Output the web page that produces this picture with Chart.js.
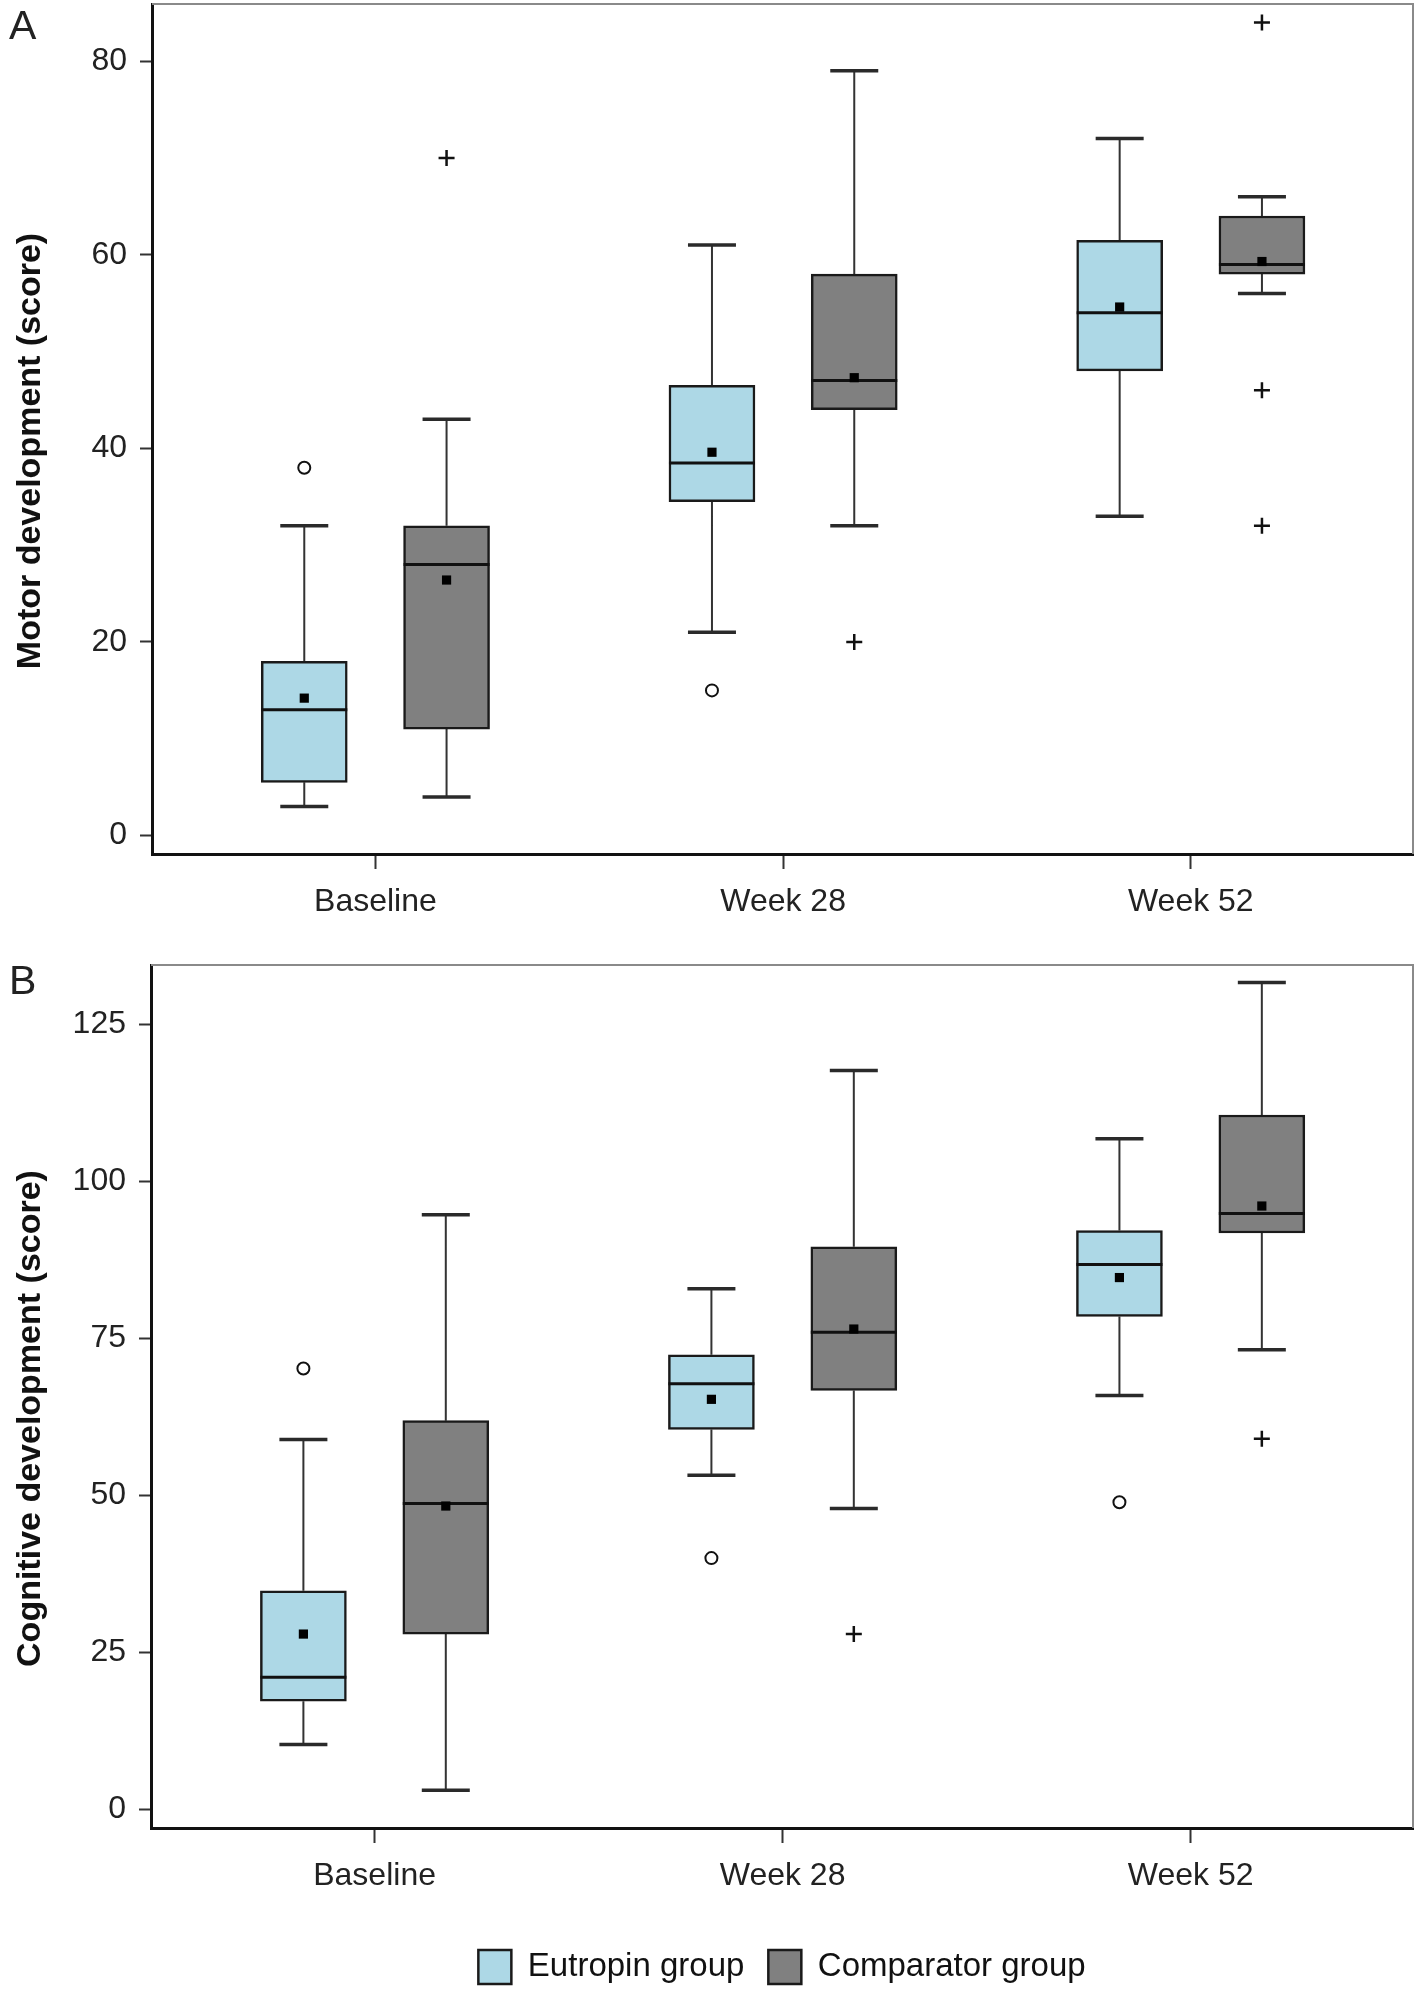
<!DOCTYPE html>
<html>
<head>
<meta charset="utf-8">
<script src="https://cdn.jsdelivr.net/npm/chart.js@4.4.0/dist/chart.umd.min.js"></script>
<style>
  body { margin: 0; background: #fff; }
  .panel { position: relative; width: 1418px; }
  #panelA { height: 940px; }
  #panelB { height: 1050px; }
</style>
</head>
<body>
<div class="panel" id="panelA"><canvas id="motorChart"></canvas></div>
<div class="panel" id="panelB"><canvas id="cognitiveChart"></canvas></div>
<script>
const categories = ['Baseline', 'Week 28', 'Week 52'];
const groupLabels = ['Eutropin group', 'Comparator group'];

// A - motor development (score)
const motorTicks = [0, 20, 40, 60, 80];
const motorEutMin    = [3, 21, 33];
const motorEutQ1     = [5.5, 34.5, 48];
const motorEutMedian = [13, 38.5, 54];
const motorEutQ3     = [18, 46.5, 61.5];
const motorEutMax    = [32, 61, 72];
const motorEutMean   = [14.2, 39.6, 54.6];
const motorEutOut    = [[38], [15], []];

const motorCmpMin    = [4, 32, 56];
const motorCmpQ1     = [11, 44, 58];
const motorCmpMedian = [28, 47, 59];
const motorCmpQ3     = [32, 58, 64];
const motorCmpMax    = [43, 79, 66];
const motorCmpMean   = [26.4, 47.3, 59.3];
const motorCmpOut    = [[70], [20], [84, 46, 32]];

// B - cognitive development (score)
const cogTicks = [0, 25, 50, 75, 100, 125];
const cogEutMin    = [10.3, 53.2, 65.9];
const cogEutQ1     = [17.2, 60.5, 78.5];
const cogEutMedian = [21, 67.8, 86.8];
const cogEutQ3     = [34.8, 72.4, 92.2];
const cogEutMax    = [58.9, 82.9, 106.8];
const cogEutMean   = [27.9, 65.3, 84.7];
const cogEutOut    = [[70.2], [40], [48.9]];

const cogCmpMin    = [3, 47.9, 73.2];
const cogCmpQ1     = [27.9, 66.7, 91.8];
const cogCmpMedian = [48.7, 76, 94.9];
const cogCmpQ3     = [61.9, 89.6, 110.6];
const cogCmpMax    = [94.7, 117.7, 131.7];
const cogCmpMean   = [48.3, 76.5, 96.1];
const cogCmpOut    = [[], [27.9], [59]];

const FONT = '"Liberation Sans", Arial, sans-serif';
const BLUE = '#add8e6';
const GREY = '#808080';

function groupDatasets(g, offset, fill, label, outStyle) {
    let xs = categories.map((c, i) => i + offset);
    let whiskers = [];
    let caps = [];
    xs.forEach((x, i) => {
        whiskers.push({x: x, y: g.q3[i]}, {x: x, y: g.max[i]}, {x: x, y: null});
        whiskers.push({x: x, y: g.q1[i]}, {x: x, y: g.min[i]}, {x: x, y: null});
        caps.push({x: x, y: g.min[i]}, {x: x, y: g.max[i]});
    });
    let outliers = [];
    g.out.forEach((list, i) => {
        list.forEach(v => outliers.push({x: xs[i], y: v}));
    });

    return [
        {
            type: 'bar',
            label: label,
            data: xs.map((x, i) => ({x: x, y: [g.q1[i], g.q3[i]]})),
            backgroundColor: fill,
            borderColor: '#1a1a1a',
            borderWidth: 2.5,
            borderSkipped: false,
            barThickness: 86,
            grouped: false,
            order: 3
        },
        {
            type: 'scatter',
            data: whiskers,
            showLine: true,
            spanGaps: false,
            borderColor: '#333',
            borderWidth: 2,
            pointRadius: 0,
            order: 5
        },
        {
            type: 'scatter',
            data: caps,
            pointStyle: 'line',
            pointRadius: 24,
            pointBorderColor: '#2a2a2a',
            pointBorderWidth: 3.5,
            order: 4
        },
        {
            type: 'scatter',
            data: xs.map((x, i) => ({x: x, y: g.median[i]})),
            pointStyle: 'line',
            pointRadius: 43,
            pointBorderColor: '#111',
            pointBorderWidth: 3,
            order: 2
        },
        {
            type: 'scatter',
            data: xs.map((x, i) => ({x: x, y: g.mean[i]})),
            pointStyle: 'rect',
            pointRadius: 6.5,
            pointBackgroundColor: '#000',
            pointBorderWidth: 0,
            order: 1
        },
        {
            type: 'scatter',
            data: outliers,
            pointStyle: outStyle,
            pointRadius: outStyle === 'circle' ? 6 : 8,
            pointBackgroundColor: '#fff',
            pointBorderColor: '#111',
            pointBorderWidth: outStyle === 'circle' ? 2 : 2.5,
            order: 1
        }
    ];
}

// thin grey frame on top/right, the panel letter and the y title
const framePlugin = {
    id: 'frame',
    afterDraw(chart, args, opts) {
        let ctx = chart.ctx;
        let a = chart.chartArea;
        ctx.save();
        ctx.strokeStyle = '#8a8a8a';
        ctx.lineWidth = 2;
        ctx.beginPath();
        ctx.moveTo(a.left, a.top);
        ctx.lineTo(a.right, a.top);
        ctx.lineTo(a.right, a.bottom);
        ctx.stroke();

        ctx.fillStyle = '#222';
        ctx.font = '41px ' + FONT;
        ctx.textBaseline = 'alphabetic';
        ctx.fillText(opts.letter, 9, opts.letterY);

        // y title sits a little below the middle of the plot in the original
        ctx.fillStyle = '#111';
        ctx.font = 'bold 34px ' + FONT;
        ctx.textAlign = 'center';
        ctx.textBaseline = 'middle';
        ctx.translate(31, (a.top + a.bottom) / 2 + 22);
        ctx.rotate(-Math.PI / 2);
        ctx.fillText(opts.title, 0, 0);
        ctx.restore();
    }
};

function makeChart(id, eut, cmp, cfg) {
    let ctx = document.getElementById(id).getContext('2d');
    let datasets = groupDatasets(eut, -0.1745, BLUE, groupLabels[0], 'circle')
        .concat(groupDatasets(cmp, 0.1745, GREY, groupLabels[1], 'cross'));

    return new Chart(ctx, {
        type: 'bar',
        data: { datasets: datasets },
        plugins: [framePlugin],
        options: {
            responsive: true,
            maintainAspectRatio: false,
            animation: false,
            events: [],
            layout: {
                autoPadding: false,
                padding: { top: cfg.padTop, right: 5, left: 0, bottom: cfg.padBottom }
            },
            plugins: {
                frame: { letter: cfg.letter, letterY: cfg.letterY, title: cfg.title },
                tooltip: { enabled: false },
                legend: {
                    display: cfg.legend,
                    position: 'bottom',
                    fullSize: false,
                    labels: {
                        filter: (item, data) => data.datasets[item.datasetIndex].type === 'bar',
                        boxWidth: 33,
                        boxHeight: 34,
                        padding: 24,
                        color: '#111',
                        font: { family: FONT, size: 33 }
                    }
                }
            },
            scales: {
                x: {
                    type: 'linear',
                    min: -0.548,
                    max: 2.545,
                    offset: false,
                    afterBuildTicks: scale => {
                        scale.ticks = categories.map((c, i) => ({value: i}));
                    },
                    afterFit: scale => {
                        scale.height = cfg.xHeight;
                        scale.paddingLeft = 0;
                        scale.paddingRight = 0;
                    },
                    ticks: {
                        callback: value => categories[value],
                        color: '#222',
                        padding: 14,
                        maxRotation: 0,
                        font: { family: FONT, size: 32 }
                    },
                    grid: { offset: false, drawOnChartArea: false, tickLength: 15, tickColor: '#333', tickWidth: 2 },
                    border: { color: '#111', width: 3 }
                },
                y: {
                    min: cfg.yMin,
                    max: cfg.yMax,
                    beginAtZero: false,
                    afterBuildTicks: scale => {
                        scale.ticks = cfg.ticks.map(v => ({value: v}));
                    },
                    afterFit: scale => {
                        scale.width = cfg.yWidth;
                        scale.paddingTop = 0;
                        scale.paddingBottom = 0;
                    },
                    ticks: {
                        color: '#222',
                        padding: 13,
                        font: { family: FONT, size: 32 }
                    },
                    grid: { drawOnChartArea: false, tickLength: 12, tickColor: '#333', tickWidth: 2 },
                    border: { color: '#111', width: 3 },
                    title: { display: false }
                }
            }
        }
    });
}

let motorChart = makeChart('motorChart',
    {min: motorEutMin, q1: motorEutQ1, median: motorEutMedian, q3: motorEutQ3, max: motorEutMax, mean: motorEutMean, out: motorEutOut},
    {min: motorCmpMin, q1: motorCmpQ1, median: motorCmpMedian, q3: motorCmpQ3, max: motorCmpMax, mean: motorCmpMean, out: motorCmpOut},
    {letter: 'A', letterY: 39, padTop: 4, padBottom: 0, xHeight: 86, yWidth: 152,
     yMin: -1.9, yMax: 85.9, ticks: motorTicks, title: 'Motor development (score)', legend: false});

let cognitiveChart = makeChart('cognitiveChart',
    {min: cogEutMin, q1: cogEutQ1, median: cogEutMedian, q3: cogEutQ3, max: cogEutMax, mean: cogEutMean, out: cogEutOut},
    {min: cogCmpMin, q1: cogCmpQ1, median: cogCmpMedian, q3: cogCmpQ3, max: cogCmpMax, mean: cogCmpMean, out: cogCmpOut},
    {letter: 'B', letterY: 54, padTop: 25, padBottom: -4, xHeight: 98, yWidth: 151,
     yMin: -3, yMax: 134.5, ticks: cogTicks, title: 'Cognitive development (score)', legend: true});
</script>
</body>
</html>
